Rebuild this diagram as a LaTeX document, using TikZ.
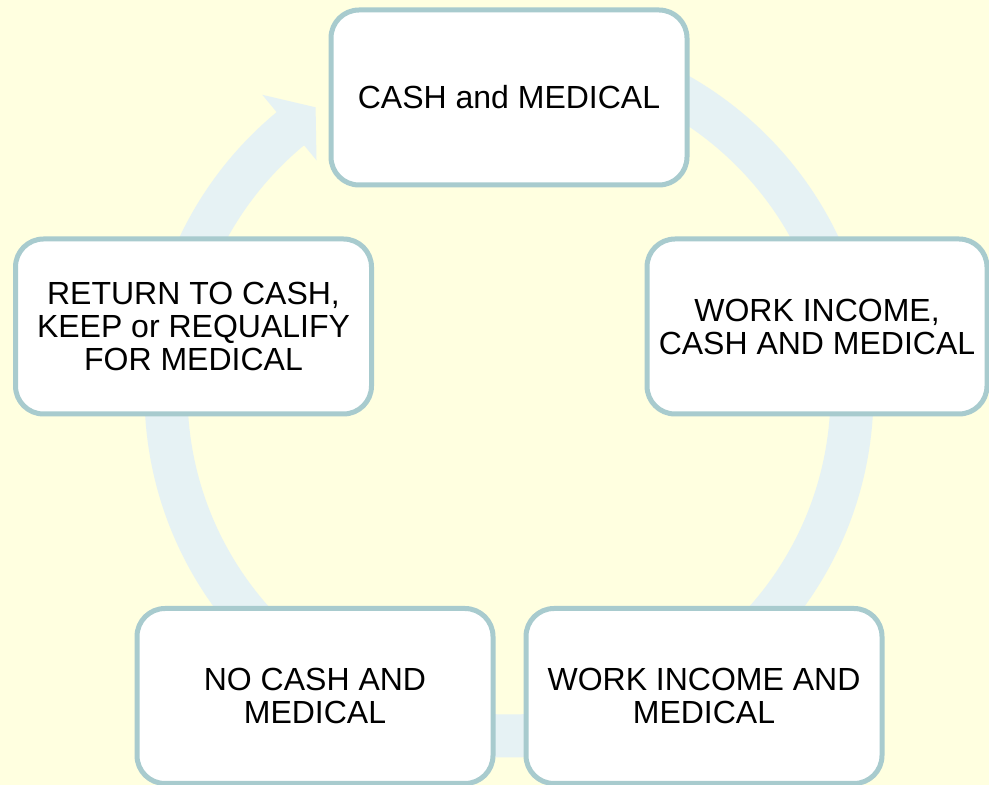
\documentclass[tikz,border=0pt]{standalone}
\usepackage{fontspec}
\setmainfont{Liberation Sans}
\definecolor{paper}{HTML}{FFFFE0}
\definecolor{ringblue}{HTML}{E6F2F4}
\definecolor{boxline}{HTML}{A8CBCE}
\begin{document}
\begin{tikzpicture}[x=1pt, y=1pt,
  stage/.style={draw=boxline, line width=5pt, fill=white, rounded corners=28pt,
    minimum width=356pt, minimum height=175pt, inner sep=0pt, align=center,
    font=\fontsize{32}{33}\selectfont},
  ring/.style={draw=ringblue, line width=43pt}]

\fill[paper] (0,0) rectangle (989,785);
\useasboundingbox (0,0) rectangle (989,785);
\coordinate (hub) at (509,392);

\draw[ring] ([shift={(90:343pt)}]hub) arc[start angle=90, end angle=-231, radius=343pt];
\fill[ringblue] ([shift={(129.6:387pt)}]hub) -- ([shift={(124.1:345pt)}]hub) -- ([shift={(129.6:302pt)}]hub) -- cycle;

\node[stage] (cash) at (509,687.5) {CASH and MEDICAL};
\node[stage, minimum width=340pt] (workcash) at (817,458.5) {WORK INCOME,\\CASH AND MEDICAL};
\node[stage] (workmed) at (704,89) {WORK INCOME AND\\MEDICAL};
\node[stage] (nocash) at (315,89) {NO CASH AND\\MEDICAL};
\node[stage] (back) at (193.5,458.5) {RETURN TO CASH,\\KEEP or REQUALIFY\\FOR MEDICAL};

\end{tikzpicture}
\end{document}
